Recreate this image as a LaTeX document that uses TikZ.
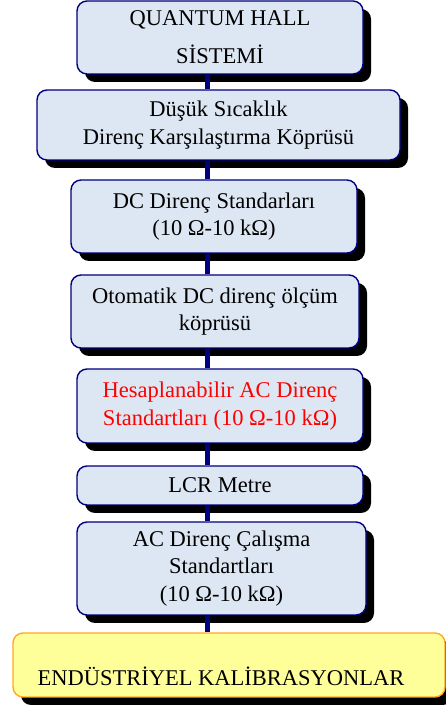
\documentclass[tikz,border=0pt]{standalone}
\usepackage{fontspec}
\setmainfont{Liberation Serif}
\usetikzlibrary{positioning,shadows}
\definecolor{navy}{RGB}{0,0,128}
\definecolor{paleblue}{RGB}{221,231,243}
\definecolor{paleyellow}{RGB}{255,255,153}
\definecolor{amber}{RGB}{255,168,40}
\tikzset{
  % --- chain boxes -----------------------------------------------------
  stage/.style ={rectangle, rounded corners=10pt, draw=navy, line width=1.4pt,
                 fill=paleblue, align=center, inner sep=0pt, text=black,
                 font=\fontsize{22.5}{27.5}\selectfont,
                 drop shadow={shadow xshift=8pt, shadow yshift=-8pt,
                              fill=black, opacity=1}},
  final/.style ={stage, draw=amber, fill=paleyellow},
  % --- connectors ------------------------------------------------------
  link/.style  ={draw=navy, line width=5pt},
}

\begin{document}
\begin{tikzpicture}[x=1pt, y=1pt]
  \useasboundingbox (0,0) rectangle (446,708);

  % ============================ traceability chain ============================
  \node[stage, minimum width=286pt, minimum height=73pt,
        font=\fontsize{22.5}{38}\selectfont] (qhs) at (220,670.5)
    {QUANTUM HALL\\SİSTEMİ};
  \node[stage, minimum width=363pt, minimum height=70pt] (dkb) at (218.5,583)
    {Düşük Sıcaklık\\Direnç Karşılaştırma Köprüsü};
  \node[stage, minimum width=286pt, minimum height=73pt] (dcs) at (214,491.5)
    {DC Direnç Standarları\\(10 Ω-10 kΩ)};
  \node[stage, minimum width=288pt, minimum height=73pt] (odc) at (215,396.5)
    {Otomatik DC direnç ölçüm\\köprüsü};
  \node[stage, minimum width=286pt, minimum height=74pt, text=red] (hac) at (220,302)
    {Hesaplanabilir AC Direnç\\Standartları (10 Ω-10 kΩ)};
  \node[stage, minimum width=286pt, minimum height=39pt] (lcr) at (220,222.5)
    {LCR Metre};
  \node[stage, minimum width=289pt, minimum height=93pt] (acw) at (221.5,139.5)
    {AC Direnç Çalışma\\Standartları\\(10 Ω-10 kΩ)};
  \node[final, minimum width=432pt, minimum height=64pt] (ind) at (229,43)
    {\mbox{}\\[13pt]ENDÜSTRİYEL KALİBRASYONLAR\hspace*{16pt}};

  % ============================ vertical spine ============================
  \coordinate (spine) at (207,0);
  \draw[link] (qhs.south -| spine) -- (dkb.north -| spine);
  \draw[link] (dkb.south -| spine) -- (dcs.north -| spine);
  \draw[link] (dcs.south -| spine) -- (odc.north -| spine);
  \draw[link] (odc.south -| spine) -- (hac.north -| spine);
  \draw[link] (hac.south -| spine) -- (lcr.north -| spine);
  \draw[link] (lcr.south -| spine) -- (acw.north -| spine);
  \draw[link] (acw.south -| spine) -- (ind.north -| spine);

\end{tikzpicture}
\end{document}
